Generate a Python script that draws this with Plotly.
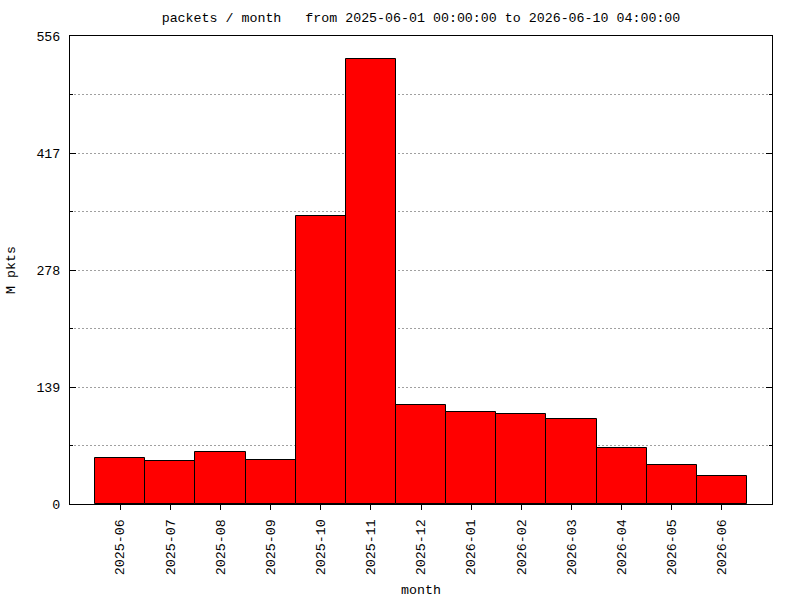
import plotly.graph_objects as go

months = ["2025-06", "2025-07", "2025-08", "2025-09", "2025-10", "2025-11", "2025-12",
          "2026-01", "2026-02", "2026-03", "2026-04", "2026-05", "2026-06"]
packets_m = [54.3, 50.7, 61.4, 51.9, 341.8, 528.3, 117.6, 108.9, 106.9, 100.6, 66.2, 46.0, 32.9]
y_ticks = [0, 139, 278, 417, 556]

title_text = "packets / month   from 2025-06-01 00:00:00 to 2026-06-10 04:00:00"
FONT = "Liberation Mono, DejaVu Sans Mono, monospace"
FS = 13.3

fig = go.Figure()
fig.add_trace(go.Bar(
    x=months, y=packets_m,
    marker=dict(color="#ff0000", line=dict(color="black", width=1)),
    hoverinfo="x+y",
))

fig.update_layout(
    width=800, height=600, autosize=False,
    margin=dict(l=70, r=28, t=36, b=96),
    paper_bgcolor="white", plot_bgcolor="white",
    font=dict(family=FONT, size=FS, color="black"),
    bargap=0,
    showlegend=False,
    title=dict(text=title_text, x=0.5, xanchor="center", xref="paper",
               y=1 - 17 / 600, yanchor="middle", yref="container",
               font=dict(family=FONT, size=FS, color="black")),
)

fig.update_xaxes(
    type="category", range=[-1, 13],
    showline=True, linecolor="black", linewidth=1, mirror=True,
    ticks="outside", ticklen=5, tickcolor="black", tickwidth=1,
    tickangle=-90, showgrid=False, zeroline=False,
    ticklabelstandoff=4,
)
fig.update_yaxes(
    range=[0, 556], tickvals=y_ticks, ticktext=[str(v) for v in y_ticks],
    showline=True, linecolor="black", linewidth=1, mirror="ticks",
    ticks="inside", ticklen=6, tickcolor="black", tickwidth=1,
    showgrid=True, gridcolor="#a0a0a0", griddash="2px,2px", gridwidth=1,
    zeroline=False, ticklabelstandoff=6,
    minor=dict(dtick=69.5, tick0=0, ticks="inside", ticklen=3, tickcolor="black",
               showgrid=True, gridcolor="#a0a0a0", griddash="2px,2px", gridwidth=1),
)

plot_w = 800 - 70 - 28
plot_h = 600 - 36 - 96
fig.add_annotation(text="M pkts", x=(11 - 70) / plot_w, y=(504 - 270) / plot_h,
                   xref="paper", yref="paper", xanchor="center", yanchor="middle",
                   showarrow=False, textangle=-90,
                   font=dict(family=FONT, size=FS, color="black"))
fig.add_annotation(text="month", x=(421 - 70) / plot_w, y=(504 - 590) / plot_h,
                   xref="paper", yref="paper", xanchor="center", yanchor="middle",
                   showarrow=False,
                   font=dict(family=FONT, size=FS, color="black"))

fig.write_html("out.html")
